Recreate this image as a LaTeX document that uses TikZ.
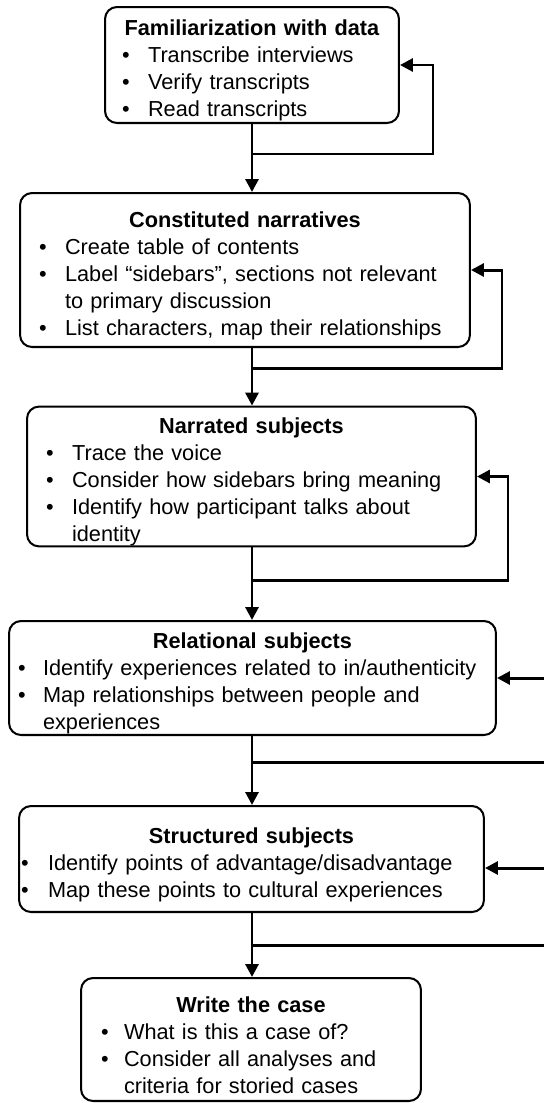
\documentclass[tikz,border=0pt]{standalone}
\usepackage{fontspec}
\setmainfont{Liberation Sans}
\usetikzlibrary{arrows.meta}
\newlength\px
\setlength\px{0.02cm}
\newlength\boff
\newlength\toff
% bullet and text offsets from the left border of a box
\newcommand{\offs}[2]{\setlength\boff{#1\px}\setlength\toff{#2\px}}
\newcommand{\ttl}[1]{\par\hbox to\hsize{\hss\textbf{#1}\hss}}
\newcommand{\bl}[1]{\par\hbox to\hsize{\hspace*{\boff}\hbox to\dimexpr\toff-\boff\relax{\textbullet\hss}#1\hss}}
\newcommand{\cl}[1]{\par\hbox to\hsize{\hspace*{\toff}#1\hss}}
\begin{document}
\begin{tikzpicture}[x=0.02cm,y=-0.02cm,
    stage/.style={draw,line width=1.15pt,rounded corners=6.8pt,inner sep=0pt,
        font=\fontsize{12.36}{15.4}\selectfont},
    flow/.style={-{Triangle[length=7.4pt,width=7.4pt]},line width=1.7pt},
    line/.style={line width=1.7pt}]
        \useasboundingbox (0,0) rectangle (544,1103);
        \node [stage,text width=5.88cm,minimum height=2.32cm] (fam) at (252,65)
            {\offs{17}{43}\ttl{Familiarization with data}
             \bl{Transcribe interviews}\bl{Verify transcripts}\bl{Read transcripts}};
        \node [stage,text width=9cm,minimum height=3.08cm] (con) at (245,270)
            {\offs{19}{45}\ttl{Constituted narratives}
             \bl{Create table of contents}
             \bl{Label ``sidebars'', sections not relevant}\cl{to primary discussion}
             \bl{List characters, map their relationships}};
        \node [stage,text width=8.98cm,minimum height=2.78cm] (nar) at (251.5,476.5)
            {\offs{19}{45}\ttl{Narrated subjects}
             \bl{Trace the voice}
             \bl{Consider how sidebars bring meaning}
             \bl{Identify how participant talks about}\cl{identity}};
        \node [stage,text width=9.74cm,minimum height=2.28cm] (rel) at (252.5,678)
            {\offs{9}{34}\ttl{Relational subjects}
             \bl{Identify experiences related to in/authenticity}
             \bl{Map relationships between people and}\cl{experiences}};
        \node [stage,text width=9.3cm,minimum height=2.12cm] (str) at (251.5,859)
            {\offs{2}{29}\ttl{Structured subjects}
             \bl{Identify points of advantage/disadvantage}
             \bl{Map these points to cultural experiences}};
        \node [stage,text width=6.8cm,minimum height=2.46cm] (case) at (251,1039.5)
            {\offs{20}{43}\ttl{Write the case}
             \bl{What is this a case of?}
             \bl{Consider all analyses and}\cl{criteria for storied cases}};
        % main flow
        \draw [flow] (fam.south) -- (fam.south |- con.north);
        \draw [flow] (con.south -| fam) -- (fam |- nar.north);
        \draw [flow] (nar.south -| fam) -- (fam |- rel.north);
        \draw [flow] (rel.south -| fam) -- (fam |- str.north);
        \draw [flow] (str.south -| fam) -- (fam |- case.north);
        % feedback loops
        \coordinate (b1) at (252,154);
        \coordinate (b2) at (252,368);
        \coordinate (b3) at (252,580);
        \coordinate (b4) at (252,762);
        \coordinate (b5) at (252,945);
        \coordinate (in4) at (550,678);
        \coordinate (in5) at (550,868);
        \draw [flow] (b1) -- ++(181,0) |- (fam.east);
        \draw [flow] (b2) -- ++(250,0) |- (con.east);
        \draw [flow] (b3) -- ++(256,0) |- (nar.east);
        \draw [line] (b4) -- ++(298,0);
        \draw [flow] (in4) -- (in4 -| rel.east);
        \draw [line] (b5) -- ++(298,0);
        \draw [flow] (in5) -- (in5 -| str.east);
    \end{tikzpicture}
\end{document}
